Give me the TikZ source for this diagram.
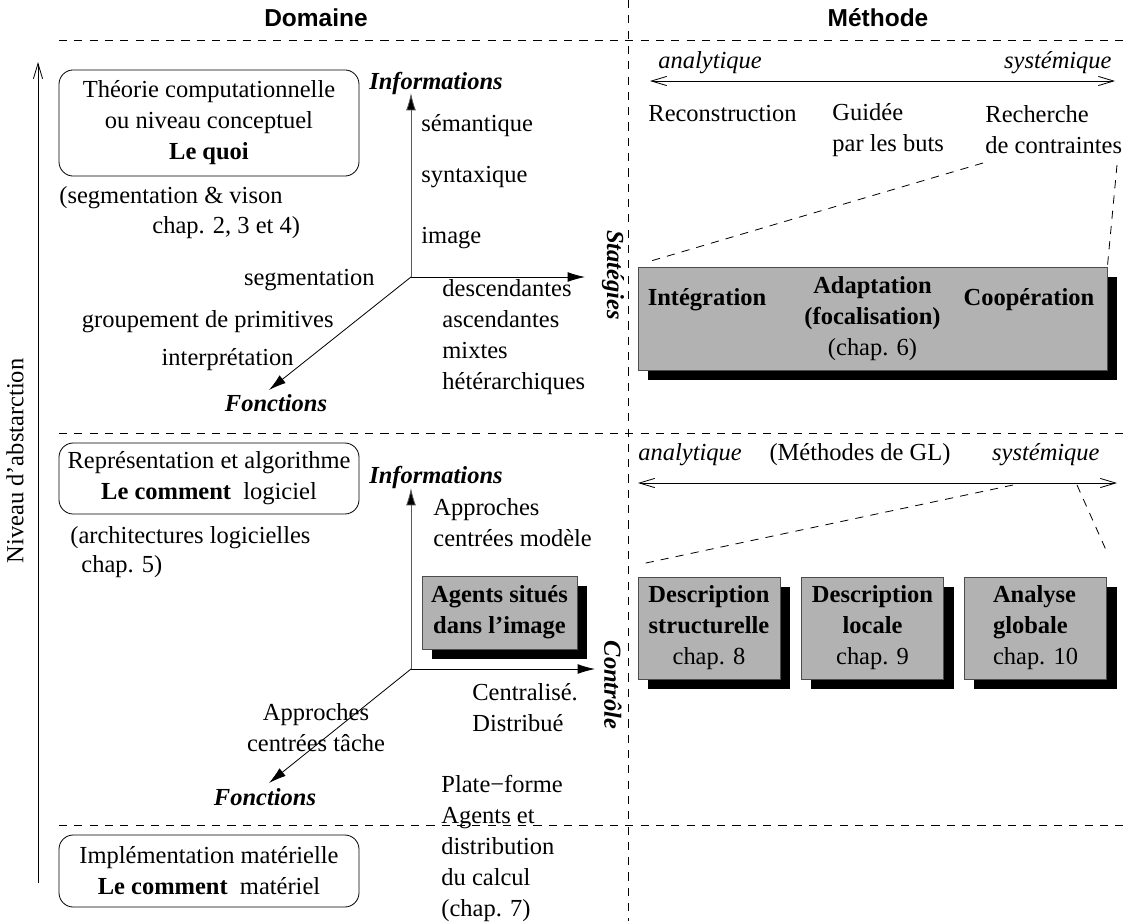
\documentclass[tikz,border=0pt,12pt]{standalone}
\usepackage{fontspec}
\setmainfont{Liberation Serif}
\setsansfont{Liberation Sans}
\linespread{1.05}
\usetikzlibrary{arrows.meta, positioning, shadows}

\begin{document}
\begin{tikzpicture}[
            x=0.49pt, y=-0.49pt,
            >={Straight Barb[length=7.5pt, width=4.5pt]},
            level/.style={rectangle, draw, rounded corners=7pt,
                minimum width=147pt, align=center, inner sep=0pt
            },
            block/.style={rectangle, draw=black!70, fill=black!30,
                align=center, inner sep=0pt,
                general shadow={fill=black, shadow xshift=4.9pt, shadow yshift=-4.9pt}
            },
            methbox/.style={block, minimum width=69.6pt, minimum height=50pt},
            sep/.style={draw, dash pattern=on 4pt off 3.5pt},
            axis/.style={draw=black!65, -{Latex[length=8.5pt, width=4.8pt, fill=black]}},
            diag/.style={draw, -{Latex[length=8.5pt, width=4.8pt]}},
            axlabel/.style={font=\bfseries\itshape},
            head/.style={font=\sffamily\bfseries}
        ]
            \useasboundingbox (0,0) rectangle (1129,921);

            % Titres et separations
            \node [head] (domaine) at (316,18) {Domaine};
            \node [head] (methode) at (878,18) {Méthode};
            \draw [sep] (59,40) -- (1129,40);
            \draw [sep] (59,433) -- (1129,433);
            \draw [sep] (59,825) -- (1129,825);
            \draw [sep] (628,0) -- (628,921);

            % Niveau d'abstraction
            \coordinate (bas) at (38,883);
            \coordinate (haut) at (38,62);
            \draw [->] (bas) -- (haut);
            \node [rotate=90] (niveau) at (15,461) {Niveau d'abstarction};

            % Niveau conceptuel
            \node [level, minimum height=52pt] (quoi) at (209,123) {Théorie computationnelle\\ou niveau conceptuel\\\textbf{Le quoi}};
            \node [anchor=west, inner sep=0pt] (segvis) at (59,198) {(segmentation \& vison};
            \node [anchor=west, inner sep=0pt] (chapa) at (152,228) {chap. 2, 3 et 4)};

            \coordinate (o1) at (411,277);
            \coordinate (i1) at (411,93);
            \coordinate (s1) at (585,277);
            \coordinate (f1) at (269,390);
            \draw [axis] (o1) -- (i1);
            \draw [axis, draw=black] (o1) -- (s1);
            \draw [diag] (o1) -- (f1);
            \node [axlabel] (info1) at (436,83) {Informations};
            \node [anchor=west, inner sep=0pt] (sem) at (421,126) {sémantique};
            \node [anchor=west, inner sep=0pt] (syn) at (421,177) {syntaxique};
            \node [anchor=west, inner sep=0pt] (img) at (421,238) {image};
            \node [anchor=east, inner sep=0pt] (seg) at (375,280) {segmentation};
            \node [anchor=east, inner sep=0pt] (grp) at (334,322) {groupement de primitives};
            \node [anchor=east, inner sep=0pt] (interp) at (294,360) {interprétation};
            \node [axlabel] (fonc1) at (276,403) {Fonctions};
            \node [anchor=west, inner sep=0pt, align=left] (desc) at (442,337) {descendantes\\ascendantes\\mixtes\\hétérarchiques};
            \node [axlabel, rotate=-90] (strateg) at (613,275) {Statégies};

            % Methodes : strategies
            \coordinate (ga) at (650,81);
            \coordinate (da) at (1115,81);
            \draw [<->] (ga) -- (da);
            \node [anchor=west, inner sep=0pt, font=\itshape] (ana1) at (658,63) {analytique};
            \node [anchor=east, inner sep=0pt, font=\itshape] (sys1) at (1112,63) {systémique};
            \node [anchor=west, inner sep=0pt] (recon) at (648,114) {Reconstruction};
            \node [anchor=west, inner sep=0pt, align=left] (guide) at (832,130) {Guidée\\par les buts};
            \node [anchor=west, inner sep=0pt, align=left] (rech) at (985,130) {Recherche\\de contraintes};

            \node [block, minimum width=229.8pt, minimum height=50.5pt] (adapt) at (872.5,318.5) {\textbf{Adaptation}\\\textbf{(focalisation)}\\(chap. 6)};
            \node [font=\bfseries] (integ) at (707,300) {Intégration};
            \node [font=\bfseries] (coop) at (1029,300) {Coopération};
            \coordinate (r1) at (983,163);
            \coordinate (r2) at (1117,165);
            \draw [sep] (r1) -- ([xshift=4pt, yshift=2pt]adapt.north west);
            \draw [sep] (r2) -- (adapt.north east);

            % Niveau logiciel
            \node [level, minimum height=34.8pt] (logic) at (209,478.5) {Représentation et algorithme\\\textbf{Le comment}~~logiciel};
            \node [anchor=west, inner sep=0pt] (archi) at (70,538) {(architectures logicielles};
            \node [anchor=west, inner sep=0pt] (chapb) at (81,567) {chap. 5)};

            \coordinate (o2) at (411,669);
            \coordinate (i2) at (411,488);
            \coordinate (c2) at (595,669);
            \coordinate (f2) at (269,783);
            \draw [axis] (o2) -- (i2);
            \draw [axis, draw=black] (o2) -- (c2);
            \draw [diag] (o2) -- (f2);
            \node [axlabel] (info2) at (436,477) {Informations};
            \node [anchor=west, inner sep=0pt, align=left] (appm) at (433,523) {Approches\\centrées modèle};
            \node [block, minimum width=76pt, minimum height=35.8pt, font=\bfseries] (agents) at (499.5,612.5) {Agents situés\\dans l'image};
            \node [axlabel, rotate=-90] (ctrl) at (613,685) {Contrôle};
            \node [anchor=west, inner sep=0pt, align=left] (centr) at (472,708) {Centralisé.\\Distribué};
            \node [align=center, inner sep=0pt] (appt) at (316,728) {Approches\\centrées tâche};
            \node [axlabel] (fonc2) at (265,797) {Fonctions};
            \node [anchor=west, inner sep=0pt, align=left] (plate) at (441,848.5) {Plate−forme\\Agents et\\distribution\\du calcul\\(chap. 7)};

            % Niveau materiel
            \node [level, minimum height=35.3pt] (mat) at (209,871) {Implémentation matérielle\\\textbf{Le comment}~~matériel};

            % Methodes : controle
            \coordinate (ga2) at (638,483);
            \coordinate (da2) at (1117,483);
            \draw [<->] (ga2) -- (da2);
            \node [anchor=west, inner sep=0pt, font=\itshape] (ana2) at (638,455) {analytique};
            \node (gl) at (860,455) {(Méthodes de GL)};
            \node [anchor=east, inner sep=0pt, font=\itshape] (sys2) at (1100,455) {systémique};

            \node [methbox] (struct) at (709,628) {\textbf{Description}\\\textbf{structurelle}\\chap. 8};
            \node [methbox] (locale) at (872.5,628) {\textbf{Description}\\\textbf{locale}\\chap. 9};
            \node [methbox, align=left] (globale) at (1035.5,628) {\textbf{Analyse}\\\textbf{globale}\\chap. 10};
            \coordinate (m1) at (1013,485);
            \coordinate (m2) at (1077,485);
            \draw [sep] (m1) -- ([xshift=1pt, yshift=6pt]struct.north west);
            \draw [sep] (m2) -- ([yshift=12pt]globale.north east);
        \end{tikzpicture}
\end{document}
